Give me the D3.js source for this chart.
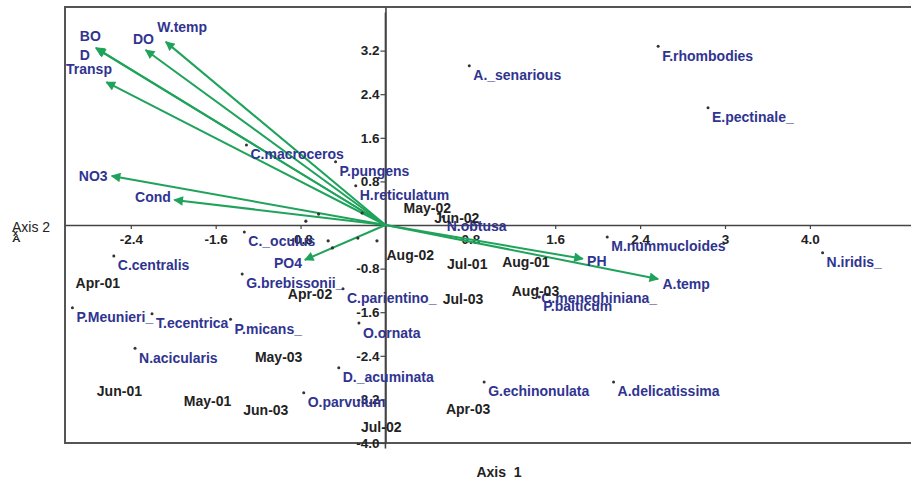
<!DOCTYPE html>
<html>
<head>
<meta charset="utf-8">
<script src="https://cdn.jsdelivr.net/npm/d3@7"></script>
<style>
  body { margin: 0; background: #fff; }
  text { font-family: "Liberation Sans", Arial, sans-serif; font-weight: bold; }
</style>
</head>
<body>
<div id="my_dataviz"></div>
<script>
var width = 911, height = 481;

// species scores (dot positions)
var speciesNames = ["C.macroceros", "P.pungens", "H.reticulatum", "A._senarious", "F.rhombodies",
  "E.pectinale_", "N.obtusa", "M.nummucloides", "N.iridis_", "C.meneghiniana_", "P.balticum",
  "G.echinonulata", "A.delicatissima", "C._oculus", "C.centralis", "G.brebissonii_", "C.parientino_",
  "P.Meunieri_", "T.ecentrica", "P.micans_", "O.ornata", "N.acicularis", "D._acuminata", "O.parvulum"];
var speciesX = [-1.31, -0.47, -0.28, 0.79, 2.57, 3.04, 0.54, 2.09, 4.12, 1.43, 1.45,
  0.93, 2.15, -1.33, -2.56, -1.35, -0.40, -2.95, -2.20, -1.46, -0.25, -2.36, -0.44, -0.77];
var speciesY = [1.47, 1.16, 0.72, 2.92, 3.28, 2.15, 0.15, -0.22, -0.51, -1.16, -1.32,
  -2.88, -2.88, -0.13, -0.57, -0.90, -1.17, -1.52, -1.63, -1.73, -1.80, -2.26, -2.62, -3.08];

// unlabelled points near the origin
var otherX = [-0.63, -0.75, -0.22, -0.54, -0.50, -0.26, -0.08];
var otherY = [0.20, 0.07, 0.22, -0.29, -0.42, -0.24, -0.29];

// sample (month) scores
var sampleNames = ["Apr-01", "Jun-01", "May-01", "Jun-03", "May-03", "Apr-02", "Aug-02", "Jul-01",
  "Aug-01", "Aug-03", "Jul-03", "May-02", "Jun-02", "Apr-03", "Jul-02"];
var sampleX = [-2.92, -2.72, -1.90, -1.34, -1.23, -0.92, 0.01, 0.58, 1.10, 1.19, 0.54, 0.17, 0.46, 0.57, -0.23];
var sampleY = [-1.06, -3.05, -3.23, -3.39, -2.42, -1.27, -0.55, -0.72, -0.68, -1.21, -1.36, 0.31, 0.13, -3.38, -3.71];

// environmental vectors
var envNames = ["W.temp", "DO", "BO", "D", "Transp", "NO3", "Cond", "PO4", "PH", "A.temp"];
var envX = [-2.07, -2.26, -2.73, -2.72, -2.63, -2.58, -1.99, -0.76, 1.86, 2.57];
var envY = [3.36, 3.21, 3.25, 3.23, 2.62, 0.90, 0.46, -0.64, -0.62, -0.99];
var envLabelX = [-2.15, -2.38, -2.88, -2.88, -3.01, -2.89, -2.36, -1.05, 1.90, 2.61];
var envLabelY = [3.63, 3.41, 3.47, 3.12, 2.86, 0.90, 0.51, -0.70, -0.66, -1.08];

// tick labels
var xTicks = [-2.4, -1.6, -0.8, 0.8, 1.6, 2.4, 3.2, 4.0];
var xTickLabels = ["-2.4", "-1.6", "-0.8", "0.8", "1.6", "2.4", "3", "4.0"];
var yTicks = [-4.0, -3.2, -2.4, -1.6, -0.8, 0.8, 1.6, 2.4, 3.2];
var yTickLabels = ["-4.0", "-3.2", "-2.4", "-1.6", "-0.8", "0.8", "1.6", "2.4", "3.2"];

var green = "#1fa35b", blue = "#2f3490", dark = "#222";

var svg = d3.select("#my_dataviz")
  .append("svg")
    .attr("width", width)
    .attr("height", height);

var x = d3.scaleLinear().domain([-3.02, 5]).range([65, 916]);
var y = d3.scaleLinear().domain([-4, 4]).range([443, 7]);

svg.append("defs").append("marker")
    .attr("id", "head")
    .attr("viewBox", "0 0 10 10")
    .attr("refX", 9).attr("refY", 5)
    .attr("markerWidth", 6).attr("markerHeight", 4.8)
    .attr("markerUnits", "strokeWidth")
    .attr("orient", "auto")
  .append("path")
    .attr("d", "M0,0L10,5L0,10Z")
    .attr("fill", green);

// frame
svg.append("rect")
    .attr("x", x(-3.02)).attr("y", y(4))
    .attr("width", x(5) - x(-3.02)).attr("height", y(-4) - y(4))
    .attr("fill", "none").attr("stroke", "#555").attr("stroke-width", 2);

// axes through origin
svg.append("g")
  .attr("transform", "translate(0," + y(0) + ")")
  .call(d3.axisBottom(x).tickValues(xTicks).tickSize(4).tickSizeOuter(0).tickPadding(5)
    .tickFormat(function(d, i) { return xTickLabels[i]; }));

svg.append("g")
  .attr("transform", "translate(" + x(0) + ",0)")
  .call(d3.axisLeft(y).tickValues(yTicks).tickSize(5).tickSizeOuter(0).tickPadding(1)
    .tickFormat(function(d, i) { return yTickLabels[i]; }));

// vertical axis line runs a little past the frame
svg.append("line")
    .attr("x1", x(0)).attr("x2", x(0))
    .attr("y1", y(3.9)).attr("y2", y(-4.1))
    .attr("stroke", "#444").attr("stroke-width", 1.6);

svg.selectAll(".domain").attr("stroke", "#444").attr("stroke-width", 1.6);
svg.selectAll(".tick line").attr("stroke", "#444").attr("stroke-width", 1.2);
svg.selectAll(".tick text").attr("font-size", 13.5).attr("fill", dark)
    .style("font-family", "'Liberation Sans', Arial, sans-serif").style("font-weight", "bold");

// vectors
svg.selectAll("line.env")
  .data(envNames).enter().append("line")
    .attr("class", "env")
    .attr("x1", x(0)).attr("y1", y(0))
    .attr("x2", function(d, i) { return x(envX[i]); })
    .attr("y2", function(d, i) { return y(envY[i]); })
    .attr("stroke", green).attr("stroke-width", 2)
    .attr("marker-end", "url(#head)");

svg.selectAll("text.env")
  .data(envNames).enter().append("text")
    .attr("class", "env")
    .attr("x", function(d, i) { return x(envLabelX[i]); })
    .attr("y", function(d, i) { return y(envLabelY[i]); })
    .attr("dy", "0.35em")
    .attr("font-size", 14)
    .attr("fill", blue)
    .text(function(d) { return d; });

// points
svg.selectAll("circle.other")
  .data(otherX).enter().append("circle")
    .attr("cx", function(d) { return x(d); })
    .attr("cy", function(d, i) { return y(otherY[i]); })
    .attr("r", 1.6).attr("fill", "#333");

svg.selectAll("circle.sp")
  .data(speciesNames).enter().append("circle")
    .attr("class", "sp")
    .attr("cx", function(d, i) { return x(speciesX[i]); })
    .attr("cy", function(d, i) { return y(speciesY[i]); })
    .attr("r", 1.5).attr("fill", "#333");

svg.selectAll("text.sp")
  .data(speciesNames).enter().append("text")
    .attr("class", "sp")
    .attr("x", function(d, i) { return x(speciesX[i]) + 4; })
    .attr("y", function(d, i) { return y(speciesY[i]) + 9.5; })
    .attr("dy", "0.35em")
    .attr("font-size", 14)
    .attr("fill", blue)
    .text(function(d) { return d; });

svg.selectAll("text.sample")
  .data(sampleNames).enter().append("text")
    .attr("class", "sample")
    .attr("x", function(d, i) { return x(sampleX[i]); })
    .attr("y", function(d, i) { return y(sampleY[i]); })
    .attr("dy", "0.35em")
    .attr("font-size", 14)
    .attr("fill", dark)
    .text(function(d) { return d; });

// axis titles
svg.append("text")
    .attr("x", 499).attr("y", 472).attr("dy", "0.35em")
    .attr("text-anchor", "middle")
    .attr("font-size", 14).attr("fill", dark)
    .style("white-space", "pre")
    .text("Axis  1");

svg.append("text")
    .attr("x", 12).attr("y", 227).attr("dy", "0.35em")
    .attr("font-size", 14).attr("fill", dark)
    .style("font-weight", "normal")
    .text("Axis 2");
svg.append("text")
    .attr("x", 12).attr("y", 242)
    .attr("font-size", 12).attr("fill", dark)
    .attr("transform", "translate(12,242) scale(1,0.7) translate(-12,-242)")
    .text("A");
svg.append("text")
    .attr("x", 13).attr("y", 236)
    .attr("font-size", 9).attr("fill", dark)
    .text("x");
</script>
</body>
</html>
